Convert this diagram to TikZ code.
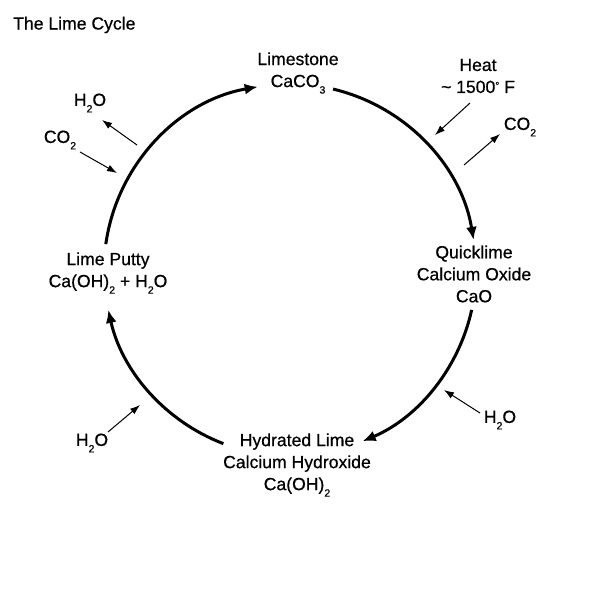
\documentclass[tikz,border=0pt]{standalone}
\usepackage{fontspec}
\setmainfont{Liberation Sans}[FakeBold=0.6]
\usetikzlibrary{arrows.meta}
\newcommand\sbx[1]{\raisebox{-6.5pt}{\fontsize{10.5}{10.5}\selectfont #1}}
\newcommand\degx{\raisebox{4pt}{\fontsize{10}{10}\selectfont °}}
\begin{document}
\begin{tikzpicture}[x=1pt,y=1pt,
  lbl/.style={font=\fontsize{17.6}{22}\selectfont, align=center, inner sep=0pt},
  cyc/.style={line width=3pt, -{Latex[length=13pt,width=11pt]}},
  thin/.style={line width=1pt, -{Latex[length=10pt,width=7pt]}}]
\useasboundingbox (0,0) rectangle (600,600);
\fill[white] (0,0) rectangle (600,600);
\node[lbl, anchor=west] (title) at (13,575) {The Lime Cycle};
\node[lbl] (lime) at (298,527) {Limestone\\CaCO\sbx{3}};
\node[lbl] (heat) at (478,524) {Heat\\\textasciitilde{} 1500\degx{} F};
\node[lbl] (co2r) at (520,473) {CO\sbx{2}};
\node[lbl] (quick) at (474,326) {Quicklime\\Calcium Oxide\\CaO};
\node[lbl] (h2or) at (500,180) {H\sbx{2}O};
\node[lbl] (hyd) at (297,135) {Hydrated Lime\\Calcium Hydroxide\\Ca(OH)\sbx{2}};
\node[lbl] (h2oll) at (92,157) {H\sbx{2}O};
\node[lbl] (putty) at (108,327) {Lime Putty\\Ca(OH)\sbx{2} + H\sbx{2}O};
\node[lbl] (h2oul) at (90,497) {H\sbx{2}O};
\node[lbl] (co2l) at (60,460) {CO\sbx{2}};
\coordinate (c) at (290,330);
\draw[cyc] (c) ++(76.6:186) arc[start angle=76.6, end angle=9.3, radius=186];
\draw[cyc] (c) ++(-12.4:186) arc[start angle=-12.4, end angle=-67, radius=186];
\draw[cyc] (c) ++(-111:186) arc[start angle=-111, end angle=-167.6, radius=186];
\draw[cyc] (c) ++(172:186) arc[start angle=172, end angle=100, radius=186];
\coordinate (a1s) at (470,497); \coordinate (a1e) at (435,465);
\coordinate (a2s) at (464,435); \coordinate (a2e) at (500,466);
\coordinate (a3s) at (480,187); \coordinate (a3e) at (444,210);
\coordinate (a4s) at (108,168); \coordinate (a4e) at (140,195);
\coordinate (a5s) at (137,455); \coordinate (a5e) at (102,480);
\coordinate (a6s) at (80,448);  \coordinate (a6e) at (117,427);
\draw[thin] (a1s) -- (a1e);
\draw[thin] (a2s) -- (a2e);
\draw[thin] (a3s) -- (a3e);
\draw[thin] (a4s) -- (a4e);
\draw[thin] (a5s) -- (a5e);
\draw[thin] (a6s) -- (a6e);
\end{tikzpicture}
\end{document}
